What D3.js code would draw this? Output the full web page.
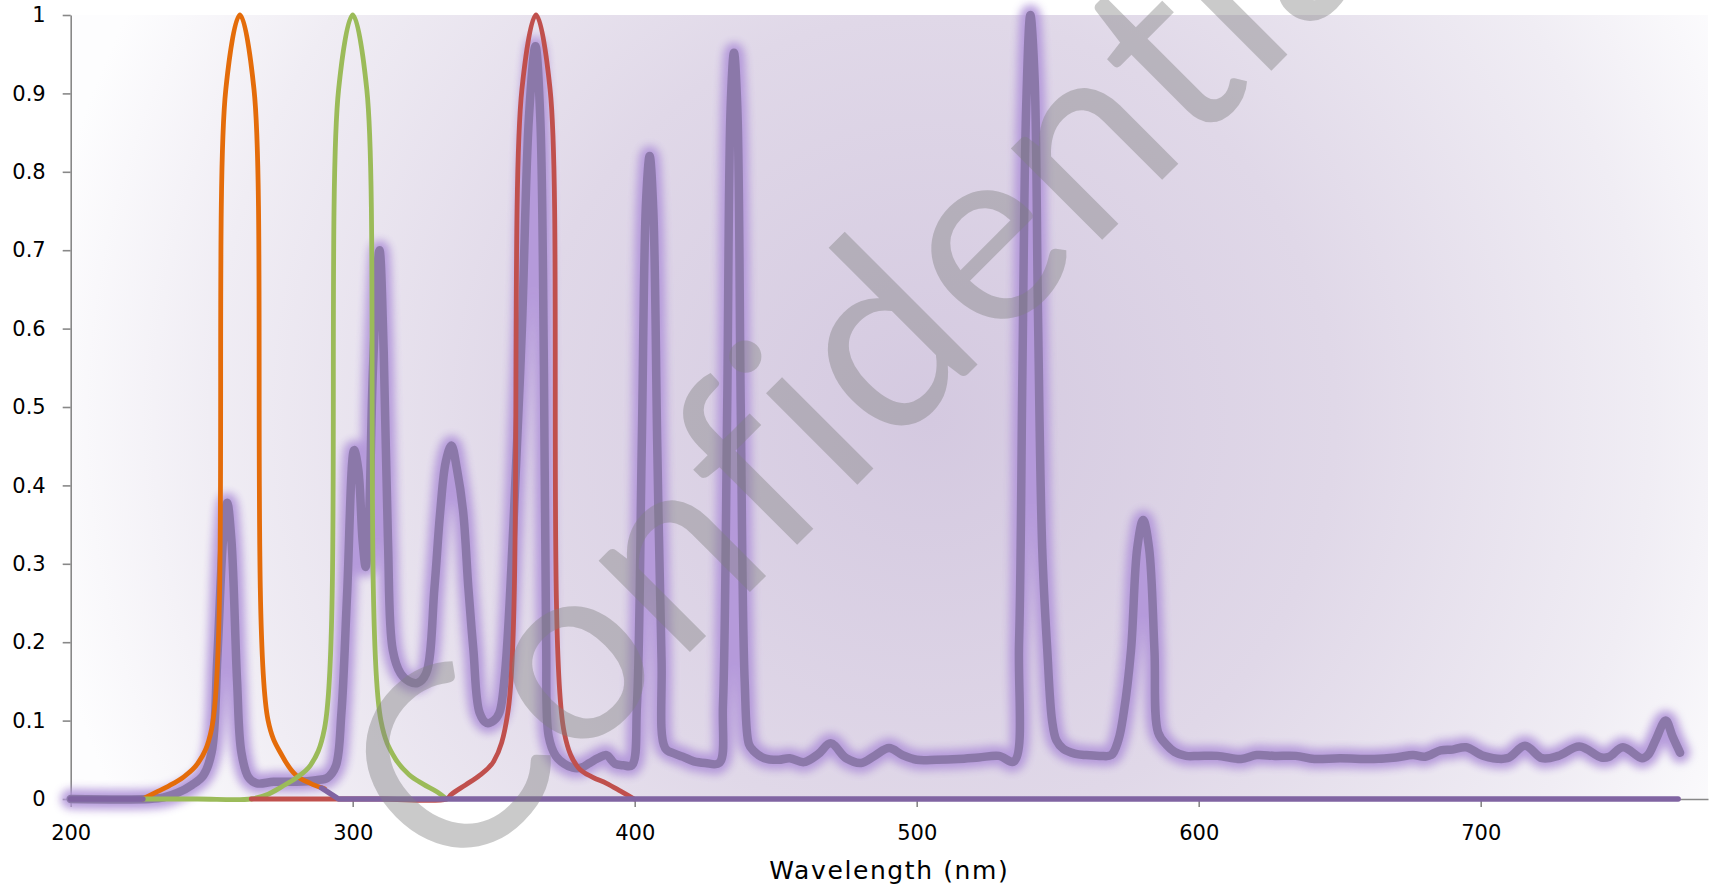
<!DOCTYPE html>
<html>
<head>
<meta charset="utf-8">
<script src="https://cdn.jsdelivr.net/npm/d3@7"></script>
<style>
  html, body { margin: 0; padding: 0; background: #ffffff; }
  svg { display: block; }
</style>
</head>
<body>
<svg id="chart" width="1714" height="888"></svg>
<script>
// Lamp emission spectrum (nm, relative intensity)
const spectrum = [
  [200,0],[228,0],[233,0.002],[238,0.008],[243,0.018],[247,0.03],[250,0.06],[252,0.18],[254,0.33],
  [255.5,0.378],[257,0.33],[259,0.15],[260.5,0.06],[263,0.028],[266,0.02],[272,0.022],[280,0.022],
  [287,0.024],[291,0.027],[294,0.042],[296,0.11],[298,0.26],[300.5,0.445],[302,0.42],[303.5,0.33],
  [304.6,0.296],[305.8,0.36],[307.2,0.55],[309.5,0.70],[311,0.57],[312.5,0.33],[314.2,0.19],
  [317,0.16],[320,0.15],[323,0.148],[326,0.16],[329,0.27],[331,0.365],[333,0.43],[335,0.451],
  [337,0.42],[339.2,0.365],[341,0.27],[342.8,0.19],[345,0.11],[347.5,0.097],[350,0.1],[352,0.11],
  [354,0.16],[357,0.35],[360,0.6],[362.5,0.87],[364.8,0.96],[366.5,0.87],[367.8,0.55],[368.6,0.2],
  [369.5,0.08],[372,0.055],[375,0.045],[378,0.04],[381,0.04],[384,0.046],[387,0.052],[390,0.056],
  [393,0.045],[396,0.043],[399,0.043],[400.8,0.12],[402.5,0.45],[404,0.76],[405.3,0.82],[406.6,0.75],
  [408,0.45],[409.5,0.18],[410.8,0.065],[414,0.058],[417,0.054],[421,0.048],[425,0.046],[430,0.046],
  [431.3,0.12],[432.8,0.5],[434,0.88],[435.2,0.952],[436.4,0.88],[437.6,0.5],[439,0.15],[440.5,0.07],
  [442,0.062],[446,0.052],[451,0.05],[455,0.052],[460,0.047],[465,0.057],[469.5,0.071],[475,0.052],
  [480.3,0.046],[485,0.055],[490.2,0.065],[495,0.056],[500,0.05],[507,0.05],[514.7,0.051],
  [522,0.053],[529.2,0.055],[534.5,0.048],[536.3,0.2],[537.5,0.55],[538.8,0.88],[540.3,1.0],
  [541.8,0.92],[543,0.62],[544.5,0.32],[546.3,0.19],[548,0.1],[549.5,0.075],[552,0.064],
  [556,0.058],[560,0.056],[565,0.055],[569,0.056],[571.5,0.075],[573.4,0.11],[576,0.19],
  [578.2,0.32],[580.3,0.356],[582.4,0.32],[584.3,0.19],[585.6,0.085],[588.6,0.069],[591.5,0.06],
  [595.5,0.055],[600,0.055],[606.7,0.055],[615,0.051],[620.5,0.056],[627,0.055],[634.4,0.055],
  [641,0.051],[650,0.052],[662.2,0.051],[670,0.053],[676,0.056],[680.3,0.054],[685.8,0.062],
  [690,0.063],[694.8,0.066],[701,0.055],[709.4,0.052],[715.7,0.068],[721.8,0.052],[727.5,0.055],
  [735,0.067],[742.8,0.053],[745.6,0.054],[750.4,0.066],[757.2,0.052],[759.3,0.056],[762,0.075],
  [765.6,0.10],[768,0.08],[770.7,0.059]
];

// Band-pass filter transmission curves (nm, fraction)
const filter260 = [
  [225.6,0],[230,0.008],[235,0.017],[240,0.028],[245,0.045],[250,0.09],[255,0.905],[260,1.0],
  [265,0.905],[270,0.1],[275,0.055],[280,0.03],[285,0.02],[290,0.013]
];
const filter300 = [
  [225.6,0],[245,0],[264,0],[270,0.006],[275,0.016],[280,0.027],[285,0.043],[290,0.09],[295,0.905],
  [300,1.0],[305,0.905],[310,0.1],[315,0.052],[320,0.031],[325,0.019],[330,0.009],[333.3,0]
];
const filter365 = [
  [264,0],[290,0],[310,0],[333.3,0],[335,0.006],[340,0.018],[345,0.03],[350,0.048],[355,0.11],
  [360,0.905],[365,1.0],[370,0.905],[375,0.085],[380,0.04],[385,0.028],[390,0.02],[395,0.01],[399.8,0]
];
// null marks a wavelength range where this curve has no data
const filterBase = [
  [200,0],[225.6,0],[226,null],[289,0.014],[295,0],[770,0]
];

const xTicks = [200, 300, 400, 500, 600, 700];
const yTicks = [0, 0.1, 0.2, 0.3, 0.4, 0.5, 0.6, 0.7, 0.8, 0.9, 1];
const xTitle = "Wavelength (nm)";
const watermark = "Confidential";

(function draw() {
  const svg = d3.select("#chart");
  const plotLeft = 70.7, plotRight = 1708, plotTop = 15, plotBottom = 799;

  const x = d3.scaleLinear().domain([200, 780.6]).range([plotLeft, plotRight]);
  const y = d3.scaleLinear().domain([0, 1]).range([plotBottom, plotTop]);

  const defs = svg.append("defs");
  const grad = defs.append("radialGradient")
    .attr("id", "plotBg")
    .attr("gradientUnits", "userSpaceOnUse")
    .attr("cx", 930).attr("cy", 420).attr("r", 900);
  grad.append("stop").attr("offset", 0).attr("stop-color", "#d4c9e0");
  grad.append("stop").attr("offset", 0.45).attr("stop-color", "#e0d8e8");
  grad.append("stop").attr("offset", 0.8).attr("stop-color", "#f0edf4");
  grad.append("stop").attr("offset", 1).attr("stop-color", "#fdfdfe");

  const glow = defs.append("filter").attr("id", "glow")
    .attr("x", "-10%").attr("y", "-10%").attr("width", "120%").attr("height", "120%");
  glow.append("feGaussianBlur").attr("stdDeviation", 4.5);

  // plot area
  svg.append("rect")
    .attr("x", plotLeft).attr("y", plotTop)
    .attr("width", plotRight - plotLeft).attr("height", plotBottom - plotTop)
    .attr("fill", "url(#plotBg)");

  // axes
  const axisColor = "#888888";
  const yAxis = svg.append("g")
    .attr("transform", `translate(${plotLeft},0)`)
    .call(d3.axisLeft(y).tickValues(yTicks).tickSize(8).tickSizeOuter(0).tickPadding(17)
      .tickFormat(d => String(+d.toFixed(1))));
  const xAxis = svg.append("g")
    .attr("transform", `translate(0,${plotBottom})`)
    .call(d3.axisBottom(x).tickValues(xTicks).tickSize(8).tickSizeOuter(0).tickPadding(18)
      .tickFormat(d3.format("d")));
  [yAxis, xAxis].forEach(g => {
    g.select(".domain").attr("stroke", axisColor).attr("stroke-width", 1.6);
    g.selectAll(".tick line").attr("stroke", axisColor).attr("stroke-width", 1.6);
    g.selectAll(".tick text")
      .attr("fill", "#000")
      .style("font-family", "'DejaVu Sans', sans-serif")
      .style("font-size", "21px");
  });

  svg.append("text")
    .attr("x", (plotLeft + plotRight) / 2).attr("y", 879)
    .attr("text-anchor", "middle")
    .style("font-family", "'DejaVu Sans', sans-serif")
    .style("font-size", "25px")
    .style("letter-spacing", "1.6px")
    .attr("fill", "#000")
    .text(xTitle);

  const smooth = d3.line()
    .defined(d => d[1] !== null)
    .x(d => x(d[0])).y(d => y(d[1]))
    .curve(d3.curveCatmullRom.alpha(0.5));
  const straight = d3.line()
    .defined(d => d[1] !== null)
    .x(d => x(d[0])).y(d => y(d[1]));

  // spectrum with soft halo
  svg.append("path")
    .attr("d", smooth(spectrum))
    .attr("fill", "none")
    .attr("stroke", "#b397da")
    .attr("stroke-width", 20)
    .attr("stroke-linejoin", "round")
    .attr("stroke-linecap", "round")
    .attr("opacity", 0.95)
    .attr("filter", "url(#glow)");
  svg.append("path")
    .attr("d", smooth(spectrum))
    .attr("fill", "none")
    .attr("stroke", "#8b78a9")
    .attr("stroke-width", 8.5)
    .attr("stroke-linejoin", "round")
    .attr("stroke-linecap", "round");

  const filters = [
    { data: filter260, color: "#e46c0a", width: 4.8, gen: smooth },
    { data: filter300, color: "#9bbb59", width: 4.8, gen: smooth },
    { data: filter365, color: "#c0504d", width: 4.8, gen: smooth },
    { data: filterBase, color: "#8064a2", width: 5.5, gen: straight }
  ];
  svg.selectAll("path.filter")
    .data(filters)
    .join("path")
    .attr("class", "filter")
    .attr("d", d => d.gen(d.data))
    .attr("fill", "none")
    .attr("stroke", d => d.color)
    .attr("stroke-width", d => d.width)
    .attr("stroke-linejoin", "round")
    .attr("stroke-linecap", "round");

  // diagonal watermark
  svg.append("text")
    .attr("transform", "translate(452,890) rotate(-45)")
    .style("font-family", "Lato, sans-serif")
    .style("font-weight", 400)
    .style("font-size", "255px")
    .style("letter-spacing", "3px")
    .attr("fill", "#808080")
    .attr("fill-opacity", 0.42)
    .text(watermark);
})();
</script>
</body>
</html>
